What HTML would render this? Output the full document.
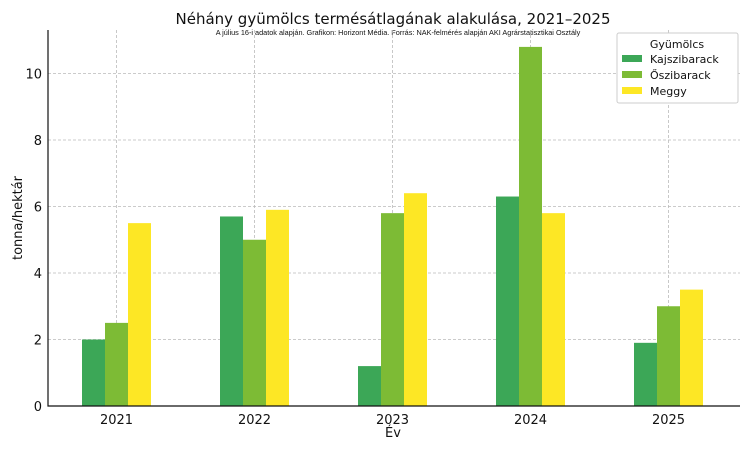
<!DOCTYPE html>
<html><head><meta charset="utf-8"><style>
body{margin:0;background:#fff}
svg{display:block;font-family:"DejaVu Sans","Liberation Sans",sans-serif}
</style></head><body>
<svg id="chart" width="750" height="450">
<text x="393" y="24" text-anchor="middle" font-size="15" fill="#111">Néhány gyümölcs termésátlagának alakulása, 2021–2025</text>
<text x="398" y="35" text-anchor="middle" font-size="7.3" font-family="Liberation Sans, sans-serif" fill="#111">A július 16-i adatok alapján. Grafikon: Horizont Média. Forrás: NAK-felmérés alapján AKI Agrárstatisztikai Osztály</text>
<g id="grid"></g><g id="bars"></g><g id="axes"></g>
<text x="393" y="437" text-anchor="middle" font-size="13" fill="#111">Év</text>
<text transform="translate(22,218) rotate(-90)" text-anchor="middle" font-size="13" fill="#111">tonna/hektár</text>
<g id="legend"></g>
</svg>
<script>
const categories=["2021","2022","2023","2024","2025"];
const seriesNames=["Kajszibarack","Őszibarack","Meggy"];
const kajszi=[2.0,5.7,1.2,6.3,1.9];
const oszi=[2.5,5.0,5.8,10.8,3.0];
const meggy=[5.5,5.9,6.4,5.8,3.5];
const yTicks=[0,2,4,6,8,10];
const colors=["#3ca757","#7dbb35","#fde725"];
const NS="http://www.w3.org/2000/svg";
const X0=48,X1=740,Y0=406,YT=30,PX=33.25;
const y=v=>Y0-v*PX;
const xc=i=>116.5+i*138;
const BW=23;
function el(t,a,p){const e=document.createElementNS(NS,t);for(const k in a)e.setAttribute(k,a[k]);document.getElementById(p).appendChild(e);return e;}
yTicks.forEach(t=>{
 const g=el("line",{x1:X0,x2:X1,y1:y(t),y2:y(t),stroke:"#bbb","stroke-dasharray":"3,2","stroke-width":0.8},"grid");
 
 
 const l=el("text",{x:X0-6,y:y(t)+5,"text-anchor":"end","font-size":13,fill:"#111"},"axes");l.textContent=t;
 
 
});
categories.forEach((c,i)=>{
 const g=el("line",{x1:xc(i),x2:xc(i),y1:YT,y2:Y0,stroke:"#bbb","stroke-dasharray":"3,2","stroke-width":0.8},"grid");
 
 
 const l=el("text",{x:xc(i),y:Y0+18,"text-anchor":"middle","font-size":13,fill:"#111"},"axes");l.textContent=c;
 
 
});
[kajszi,oszi,meggy].forEach((s,j)=>{
 s.forEach((v,i)=>{
  const r=el("rect",{x:xc(i)+(j-1)*BW-BW/2,y:y(v),width:BW,height:v*PX,fill:colors[j]},"bars");
  
  
 });
});
const ax=el("path",{d:`M${X0},${YT}V${Y0}H${X1}`,fill:"none",stroke:"#111","stroke-width":1.2},"axes");


const lb=el("rect",{x:617,y:33,width:121,height:70,fill:"#fff",stroke:"#ccc",rx:2},"legend");


const lt=el("text",{x:677,y:48,"text-anchor":"middle","font-size":11,fill:"#111"},"legend");lt.textContent="Gyümölcs";


seriesNames.forEach((n,j)=>{
 const sw=el("rect",{x:622,y:55+j*16,width:20,height:7,fill:colors[j]},"legend");
 
 
 const t=el("text",{x:650,y:63+j*16,"font-size":11,fill:"#111"},"legend");t.textContent=n;
 
 
});
</script>
</body></html>
